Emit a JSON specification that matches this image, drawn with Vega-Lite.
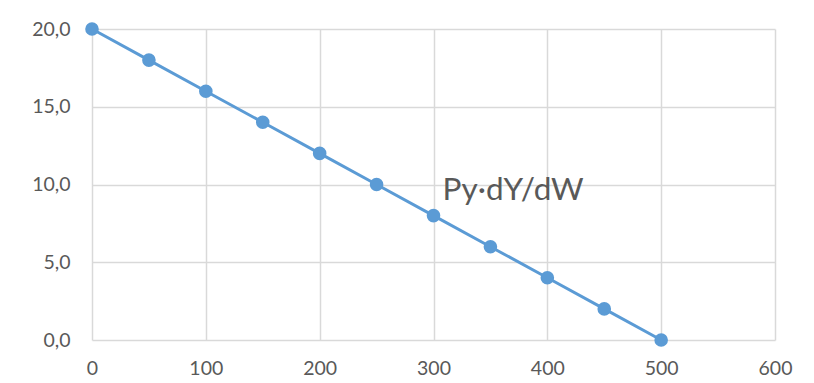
{
  "$schema": "https://vega.github.io/schema/vega-lite/v6.json",
  "width": 683,
  "height": 311,
  "autosize": {"type": "none"},
  "padding": {"left": 92, "top": 29, "right": 39, "bottom": 43},
  "background": "white",
  "config": {
    "locale": {"number": {"decimal": ",", "thousands": ".", "grouping": [3], "currency": ["", " €"]}},
    "view": {"stroke": null},
    "font": "Lato"
  },
  "datasets": {
    "pts": [
      {"w": 0, "v": 20},
      {"w": 50, "v": 18},
      {"w": 100, "v": 16},
      {"w": 150, "v": 14},
      {"w": 200, "v": 12},
      {"w": 250, "v": 10},
      {"w": 300, "v": 8},
      {"w": 350, "v": 6},
      {"w": 400, "v": 4},
      {"w": 450, "v": 2},
      {"w": 500, "v": 0}
    ],
    "lab": [{"w": 308, "v": 9.0, "t": "Py·dY/dW"}]
  },
  "layer": [
    {
      "data": {"name": "pts"},
      "mark": {"type": "line", "color": "#5B9BD5", "strokeWidth": 3, "point": {"filled": true, "size": 185, "color": "#5B9BD5", "opacity": 1}},
      "encoding": {
        "x": {"field": "w", "type": "quantitative", "scale": {"domain": [0, 600], "nice": false},
          "axis": {"values": [0, 100, 200, 300, 400, 500, 600], "title": null, "domain": false, "ticks": false, "labelPadding": 19, "labelFontSize": 19.5, "labelColor": "#595959", "gridColor": "#D9D9D9", "gridWidth": 1.5, "labelFlush": false}},
        "y": {"field": "v", "type": "quantitative", "scale": {"domain": [0, 20], "nice": false},
          "axis": {"values": [0, 5, 10, 15, 20], "format": ".1f", "title": null, "domain": false, "ticks": false, "labelPadding": 22, "labelFontSize": 19.5, "labelColor": "#595959", "gridColor": "#D9D9D9", "gridWidth": 1.5, "labelFlush": false}}
      }
    },
    {
      "data": {"name": "lab"},
      "mark": {"type": "text", "align": "left", "baseline": "alphabetic", "fontSize": 31.5, "color": "#595959"},
      "encoding": {
        "x": {"field": "w", "type": "quantitative"},
        "y": {"field": "v", "type": "quantitative"},
        "text": {"field": "t"}
      }
    }
  ]
}
